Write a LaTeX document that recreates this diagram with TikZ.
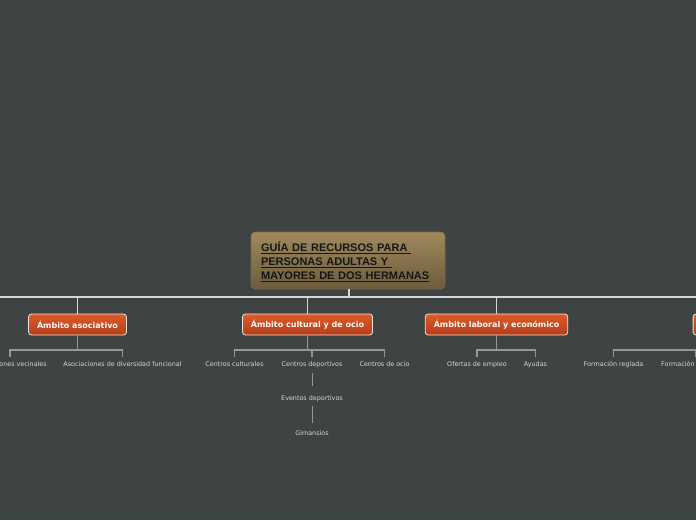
\documentclass[tikz,border=0pt]{standalone}
\usepackage{fontspec}
\setmainfont{DejaVu Sans}
\newfontfamily\titlefont{Liberation Sans}
\definecolor{bgcol}{RGB}{62,68,68}
\definecolor{linecol}{RGB}{214,214,214}
\definecolor{subcol}{RGB}{150,152,152}
\definecolor{ctop}{RGB}{160,138,92}
\definecolor{cbot}{RGB}{108,91,61}
\definecolor{cborder}{RGB}{120,104,74}
\definecolor{ctext}{RGB}{22,22,22}
\definecolor{otop}{RGB}{222,90,44}
\definecolor{obot}{RGB}{180,62,24}
\definecolor{oborder}{RGB}{240,228,222}
\definecolor{leafcol}{RGB}{214,214,214}
\begin{document}
\begin{tikzpicture}[x=1pt,y=-1pt,
  main/.style={draw=linecol, line width=1.6pt},
  sub/.style={draw=subcol, line width=1.2pt},
  central/.style={rounded corners=4pt, top color=ctop, bottom color=cbot, draw=cborder, line width=0.6pt,
    minimum width=194pt, minimum height=57pt, text width=174pt, inner xsep=10pt, align=left,
    font=\titlefont\bfseries\fontsize{11}{14}\selectfont, text=ctext},
  topic/.style={rounded corners=3pt, top color=otop, bottom color=obot, draw=oborder, line width=0.8pt,
    minimum height=21pt, inner xsep=8.5pt, inner ysep=0pt,
    font=\bfseries\fontsize{8}{10}\selectfont, text=white},
  leaf/.style={font=\fontsize{6.4}{8}\selectfont, text=leafcol, inner xsep=1pt, inner ysep=4.5pt,
    text height=5pt, text depth=1.5pt, anchor=base}
]
\fill[bgcol] (0,0) rectangle (696,520);
\useasboundingbox (0,0) rectangle (696,520);
\clip (0,0) rectangle (696,520);

% central topic
\node[central] (root) at (348,260.5) {\rule{0pt}{13pt}\underline{GUÍA DE RECURSOS PARA\ }\\\underline{PERSONAS ADULTAS Y\ }\\\underline{MAYORES DE DOS HERMANAS}};

% main topics
\node[topic] (t1) at (77.5,324.5) {Ámbito asociativo};
\node[topic] (t2) at (307.5,324.5) {Ámbito cultural y de ocio};
\node[topic] (t3) at (496.5,324.5) {Ámbito laboral y económico};
\node[topic, minimum width=120pt, anchor=west] (t4) at (692.7,324.5) {};

% leaves
\node[leaf] (c11) at (10,366.5) {Asociaciones vecinales};
\node[leaf] (c12) at (122.5,366.5) {Asociaciones de diversidad funcional};
\node[leaf] (c21) at (234.5,366.5) {Centros culturales};
\node[leaf] (c22) at (312,366.5) {Centros deportivos};
\node[leaf] (c23) at (384.5,366.5) {Centros de ocio};
\node[leaf] (e1) at (312,400) {Eventos deportivos};
\node[leaf] (g1) at (312,435) {Gimansios};
\node[leaf] (c31) at (477,366.5) {Ofertas de empleo};
\node[leaf] (c32) at (535.5,366.5) {Ayudas};
\node[leaf] (c41) at (613.5,366.5) {Formación reglada};
\node[leaf] (c42) at (696,366.5) {Formación no reglada};

% main connectors
\coordinate (hub) at (349,297);
\coordinate (lend) at (-20,297);
\coordinate (rend) at (720,297);
\draw[main] (root.south -| hub) -- (hub);
\draw[main] (lend) -- (rend);
\draw[main] (t1.north) -- (t1.north |- hub);
\draw[main] (t2.north) -- (t2.north |- hub);
\draw[main] (t3.north) -- (t3.north |- hub);
\draw[main] ([xshift=60pt]t4.north) -- ([xshift=60pt]t4.north |- hub);

% sub connectors
\coordinate (b1) at (77.5,350);
\coordinate (b2) at (307.5,350);
\coordinate (b3) at (496.5,350);
\coordinate (b4) at (752.7,350);
\draw[sub] (t1.south) -- (b1);
\draw[sub] (c11.north) |- (b1) -| (c12.north);
\draw[sub] (t2.south) -- (b2);
\draw[sub] (c21.north) |- (b2) -| (c23.north);
\draw[sub] (c22.north) -- (c22.north |- b2);
\draw[sub] (t3.south) -- (b3);
\draw[sub] (c31.north) |- (b3) -| (c32.north);
\draw[sub] (c41.north) |- (b4);
\draw[sub] (c42.north) -- (c42.north |- b4);
\draw[sub, line width=1pt, shorten >=4pt] (c22.south) -- (e1.north);
\draw[sub, line width=1pt, shorten >=2pt] (e1.south) -- (g1.north);
\end{tikzpicture}
\end{document}
